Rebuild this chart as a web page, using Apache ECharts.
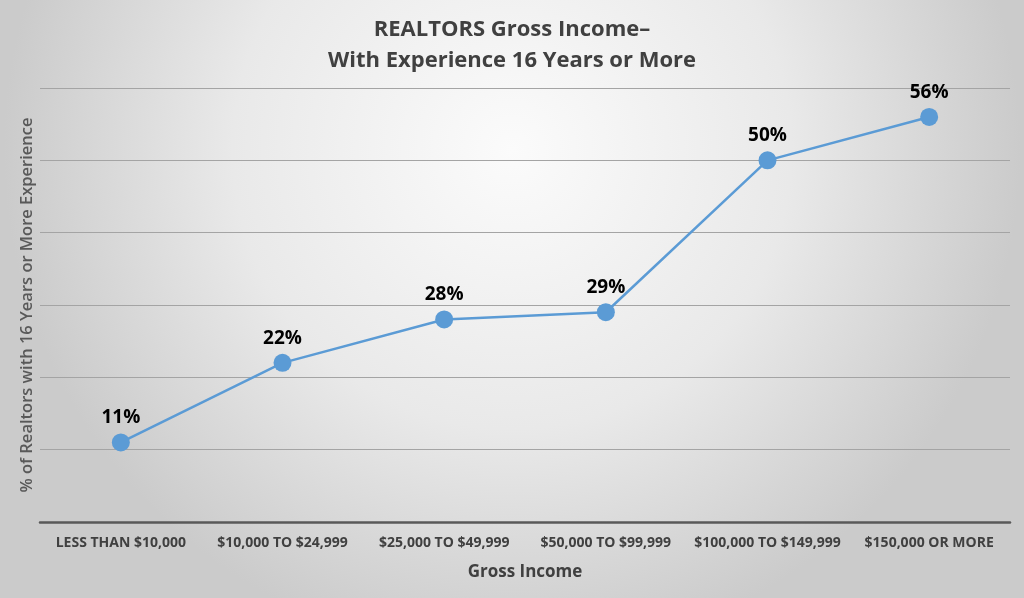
<!DOCTYPE html>
<html><head><meta charset="utf-8">
<script src="https://cdn.jsdelivr.net/npm/echarts@6/dist/echarts.min.js"></script>
<style>html,body{margin:0;padding:0}#c{width:1024px;height:598px}</style>
</head><body><div id="c"></div>
<script>
const categories = ["LESS THAN $10,000","$10,000 TO $24,999","$25,000 TO $49,999","$50,000 TO $99,999","$100,000 TO $149,999","$150,000 OR MORE"];
const values = [11, 22, 28, 29, 50, 56];
const titleLines = ["REALTORS Gross Income\u2013", "With Experience 16 Years or More"];
const xTitle = "Gross Income";
const yTitle = "% of Realtors with 16 Years or More Experience";

const chart = echarts.init(document.getElementById('c'), null, {renderer:'canvas'});
chart.setOption({
  backgroundColor: {
    type: 'radial', x: 0.5, y: 0.25, r: 0.85,
    colorStops: [{offset:0, color:'#fbfbfb'},{offset:0.55,color:'#e9e9e9'},{offset:1, color:'#cbcbcb'}]
  },
  title: {
    text: titleLines.join('\n'), left: 'center', top: 9,
    textStyle: {fontFamily:'Liberation Sans Narrow, Open Sans, sans-serif', fontWeight:'bold', fontSize:22, color:'#404040', lineHeight:31}
  },
  grid: {left: 40, right: 14, top: 88, bottom: 76},
  xAxis: {
    type: 'category', data: categories, boundaryGap: true,
    name: xTitle, nameLocation: 'middle', nameGap: 42,
    nameTextStyle: {fontFamily:'Open Sans', fontWeight:'bold', fontSize:17, color:'#404040'},
    axisLine: {lineStyle: {color:'#595959', width:2.5}},
    axisTick: {show:false},
    axisLabel: {fontFamily:'Open Sans', fontWeight:'bold', fontSize:14, color:'#404040', margin:14, interval:0}
  },
  yAxis: {
    type: 'value', min: 0, max: 60, interval: 10,
    name: yTitle, nameLocation: 'middle', nameGap: 4, nameRotate: 90,
    nameTextStyle: {fontFamily:'Open Sans', fontWeight:'600', fontSize:16.5, color:'#595959'},
    axisLabel: {show:false}, axisLine:{show:false}, axisTick:{show:false},
    splitLine: {lineStyle: {color:'#a4a4a4', width:1}}
  },
  series: [{
    type: 'line', data: values,
    symbol: 'circle', symbolSize: 18,
    lineStyle: {color:'#5B9BD5', width:2.5},
    itemStyle: {color:'#5B9BD5'},
    label: {show:true, position:'top', distance:6, formatter:'{c}%', fontFamily:'Open Sans', fontWeight:'bold', fontSize:19, color:'#000'}
  }]
});
</script></body></html>
